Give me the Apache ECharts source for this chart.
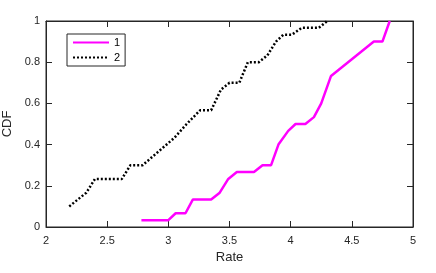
<!DOCTYPE html>
<html><head><meta charset="utf-8">
<script src="https://cdn.jsdelivr.net/npm/echarts@6/dist/echarts.min.js"></script>
<style>html,body{margin:0;padding:0;background:#fff}#c{width:436px;height:273px}</style>
</head><body><div id="c"></div>
<script>
const seriesNames = ['1', '2'];
const rate1 = [2.78, 3.00, 3.06, 3.14, 3.20, 3.35, 3.42, 3.49, 3.56, 3.70, 3.77, 3.84, 3.90, 3.98, 4.04, 4.12, 4.19, 4.25, 4.33, 4.68, 4.75, 4.81];
const cdf1  = [0.0333, 0.0333, 0.0667, 0.0667, 0.1333, 0.1333, 0.1667, 0.2333, 0.2667, 0.2667, 0.30, 0.30, 0.40, 0.4667, 0.50, 0.50, 0.5333, 0.60, 0.7333, 0.90, 0.90, 1.0];
const rate2 = [2.19, 2.33, 2.40, 2.62, 2.69, 2.79, 3.05, 3.15, 3.26, 3.35, 3.43, 3.50, 3.58, 3.65, 3.74, 3.81, 3.88, 3.94, 4.01, 4.09, 4.23, 4.30];
const cdf2  = [0.10, 0.1667, 0.2333, 0.2333, 0.30, 0.30, 0.4333, 0.5, 0.5667, 0.5667, 0.6667, 0.70, 0.70, 0.80, 0.80, 0.8333, 0.90, 0.9333, 0.9333, 0.9667, 0.9667, 1.0];
const xTicks = {min: 2, max: 5, interval: 0.5};
const yTicks = {min: 0, max: 1, interval: 0.2};

const font = 'Liberation Sans';
const chart = echarts.init(document.getElementById('c'), null, {renderer: 'canvas'});
function axisCommon() {
  return {
    axisLine: {show: true, onZero: false, lineStyle: {color: '#262626', width: 1}},
    axisTick: {show: true, inside: true, length: 6, lineStyle: {color: '#262626', width: 1}},
    splitLine: {show: false}
  };
}
chart.setOption({
  animation: false,
  backgroundColor: '#fff',
  grid: {left: 46, right: 23, top: 21, bottom: 46, outerBoundsMode: 'none', containLabel: false,
         show: true, borderColor: '#262626', borderWidth: 1},
  legend: {
    left: 67, top: 34, orient: 'vertical',
    padding: [3, 5, 3, 5],
    itemGap: 4, itemWidth: 36, itemHeight: 10,
    borderColor: '#262626', borderWidth: 1, backgroundColor: '#fff',
    itemStyle: {opacity: 0},
    textStyle: {fontFamily: font, fontSize: 11, color: '#000'},
    data: seriesNames
  },
  xAxis: [
    Object.assign({type: 'value', min: xTicks.min, max: xTicks.max, interval: xTicks.interval, position: 'bottom',
      name: 'Rate', nameLocation: 'middle', nameGap: 21,
      nameTextStyle: {fontFamily: font, fontSize: 13, color: '#262626'},
      axisLabel: {fontFamily: font, fontSize: 11, color: '#262626', margin: 8}}, axisCommon()),
    Object.assign({type: 'value', min: xTicks.min, max: xTicks.max, interval: xTicks.interval, position: 'top',
      axisLabel: {show: false}}, axisCommon())
  ],
  yAxis: [
    Object.assign({type: 'value', min: yTicks.min, max: yTicks.max, interval: yTicks.interval, position: 'left',
      name: 'CDF', nameLocation: 'middle', nameGap: 28, nameRotate: 90,
      nameTextStyle: {fontFamily: font, fontSize: 13, color: '#262626'},
      axisLabel: {fontFamily: font, fontSize: 11, color: '#262626', margin: 6,
        formatter: v => String(Math.round(v * 10) / 10)}}, axisCommon()),
    Object.assign({type: 'value', min: yTicks.min, max: yTicks.max, interval: yTicks.interval, position: 'right',
      axisLabel: {show: false}}, axisCommon())
  ],
  series: [
    {name: seriesNames[0], type: 'line', showSymbol: false, symbol: 'none',
     data: rate1.map((r, i) => [r, cdf1[i]]),
     lineStyle: {color: '#ff00ff', width: 2.5}, itemStyle: {color: '#ff00ff'}},
    {name: seriesNames[1], type: 'line', showSymbol: false, symbol: 'none',
     data: rate2.map((r, i) => [r, cdf2[i]]),
     lineStyle: {color: '#000', width: 2.5, type: [2, 2]}, itemStyle: {color: '#000'}}
  ]
});
</script></body></html>
